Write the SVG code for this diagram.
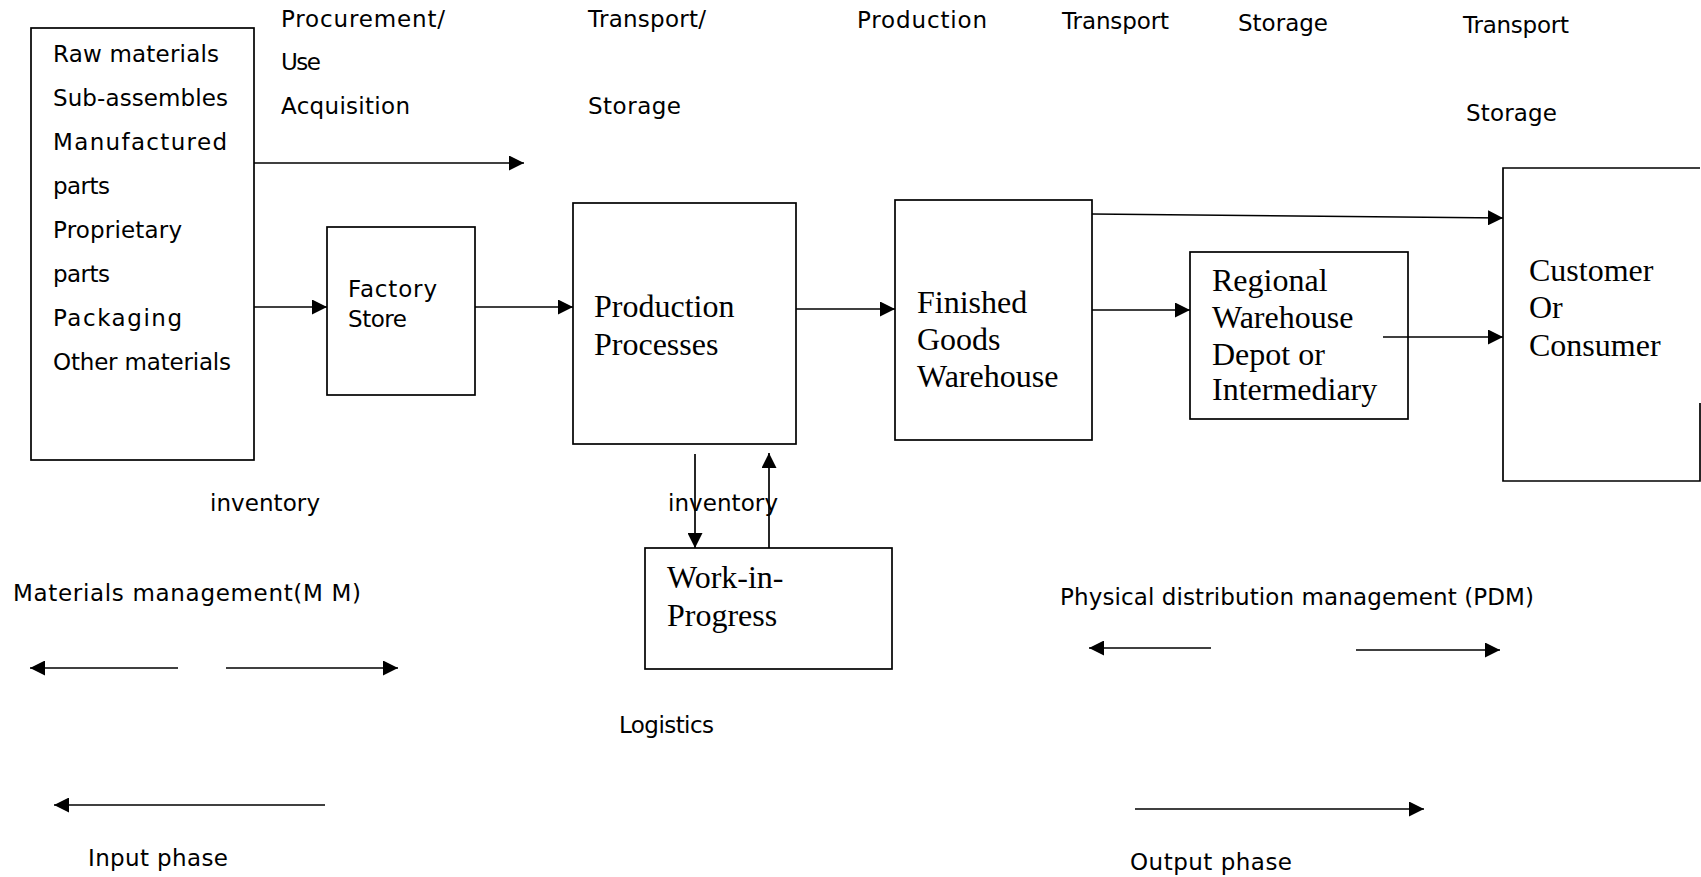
<svg xmlns="http://www.w3.org/2000/svg" width="1701" height="877" viewBox="0 0 1701 877">
<style>
.box{fill:none;stroke:#000;stroke-width:1.7}
.sans{font-family:"DejaVu Sans",sans-serif;font-size:23px;fill:#000}
.serif{font-family:"Liberation Serif",serif;font-size:32px;fill:#000}
.con{fill:none;stroke:#000;stroke-width:1.7}
</style>
<defs>
<marker id="ah" markerUnits="userSpaceOnUse" markerWidth="16" markerHeight="15" refX="15" refY="7.5" orient="auto">
<path d="M0,0 L15,7.5 L0,15 z" fill="#000"/>
</marker>
</defs>
<rect width="1701" height="877" fill="#fff"/>

<g id="labels" class="sans" lengthAdjust="spacing">
<text x="281" y="27" textLength="164">Procurement/</text>
<text x="281" y="70" textLength="40">Use</text>
<text x="281" y="114" textLength="129">Acquisition</text>
<text x="588" y="27" textLength="118">Transport/</text>
<text x="588" y="114" textLength="93">Storage</text>
<text x="857" y="28" textLength="130">Production</text>
<text x="1062" y="29" textLength="107">Transport</text>
<text x="1238" y="31" textLength="90">Storage</text>
<text x="1463" y="33" textLength="106">Transport</text>
<text x="1466" y="121" textLength="91">Storage</text>
<text x="210" y="511" textLength="110">inventory</text>
<text x="668" y="511" textLength="110">inventory</text>
<text x="13" y="601" textLength="348">Materials management(M M)</text>
<text x="1060" y="605" textLength="474">Physical distribution management (PDM)</text>
<text x="619" y="733" textLength="95">Logistics</text>
<text x="88" y="866" textLength="140">Input phase</text>
<text x="1130" y="870" textLength="162">Output phase</text>
</g>

<g id="materials">
<rect class="box" x="31" y="28" width="223" height="432"/>
<text class="sans" x="53" y="62" textLength="166">Raw materials</text>
<text class="sans" x="53" y="106" textLength="175">Sub-assembles</text>
<text class="sans" x="53" y="150" textLength="174">Manufactured</text>
<text class="sans" x="53" y="194" textLength="57">parts</text>
<text class="sans" x="53" y="238" textLength="129">Proprietary</text>
<text class="sans" x="53" y="282" textLength="57">parts</text>
<text class="sans" x="53" y="326" textLength="129">Packaging</text>
<text class="sans" x="53" y="370" textLength="178">Other materials</text>
</g>

<g id="factory-store">
<rect class="box" x="327" y="227" width="148" height="168"/>
<text class="sans" x="348" y="297" textLength="89">Factory</text>
<text class="sans" x="348" y="327" textLength="59">Store</text>
</g>

<g id="production">
<rect class="box" x="573" y="203" width="223" height="241"/>
<text class="serif" x="594" y="317">Production</text>
<text class="serif" x="594" y="355">Processes</text>
</g>

<g id="finished-goods">
<rect class="box" x="895" y="200" width="197" height="240"/>
<text class="serif" x="917" y="313">Finished</text>
<text class="serif" x="917" y="350">Goods</text>
<text class="serif" x="917" y="387">Warehouse</text>
</g>

<g id="regional">
<rect class="box" x="1190" y="252" width="218" height="167"/>
<text class="serif" x="1212" y="291">Regional</text>
<text class="serif" x="1212" y="328">Warehouse</text>
<text class="serif" x="1212" y="365">Depot or</text>
<text class="serif" x="1212" y="400">Intermediary</text>
</g>

<g id="customer">
<path class="box" d="M1700,168 L1503,168 L1503,481 L1700,481 L1700,403"/>
<text class="serif" x="1529" y="281">Customer</text>
<text class="serif" x="1529" y="318">Or</text>
<text class="serif" x="1529" y="356">Consumer</text>
</g>

<g id="wip">
<rect class="box" x="645" y="548" width="247" height="121"/>
<text class="serif" x="667" y="588">Work-in-</text>
<text class="serif" x="667" y="626">Progress</text>
</g>

<g id="connectors" class="con">
<line x1="254" y1="163" x2="524" y2="163" marker-end="url(#ah)"/>
<line x1="254" y1="307" x2="327" y2="307" marker-end="url(#ah)"/>
<line x1="475" y1="307" x2="573" y2="307" marker-end="url(#ah)"/>
<line x1="796" y1="309" x2="895" y2="309" marker-end="url(#ah)"/>
<line x1="1092" y1="214" x2="1503" y2="218" marker-end="url(#ah)"/>
<line x1="1092" y1="310" x2="1190" y2="310" marker-end="url(#ah)"/>
<line x1="1383" y1="337" x2="1503" y2="337" marker-end="url(#ah)"/>
<line x1="695" y1="454" x2="695" y2="548" marker-end="url(#ah)"/>
<line x1="769" y1="548" x2="769" y2="453" marker-end="url(#ah)"/>
<line x1="178" y1="668" x2="30" y2="668" marker-end="url(#ah)"/>
<line x1="226" y1="668" x2="398" y2="668" marker-end="url(#ah)"/>
<line x1="325" y1="805" x2="54" y2="805" marker-end="url(#ah)"/>
<line x1="1211" y1="648" x2="1089" y2="648" marker-end="url(#ah)"/>
<line x1="1356" y1="650" x2="1500" y2="650" marker-end="url(#ah)"/>
<line x1="1135" y1="809" x2="1424" y2="809" marker-end="url(#ah)"/>
</g>
</svg>
